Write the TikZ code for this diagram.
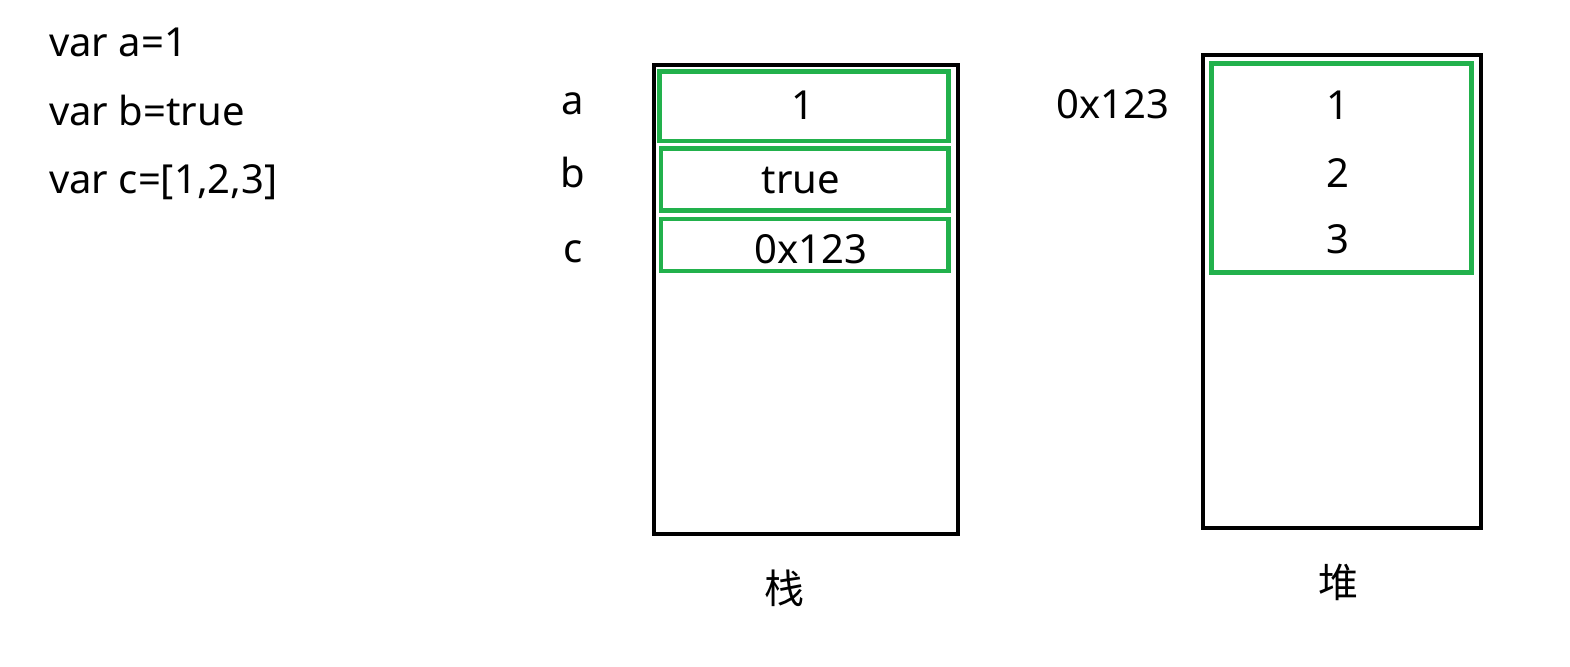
\documentclass[tikz,border=0pt]{standalone}
\usepackage{fontspec}
\setmainfont{Noto Sans}
\newfontfamily\cjkfont{Noto Sans CJK SC}
\definecolor{boxgreen}{RGB}{34,177,76}
\begin{document}
\begin{tikzpicture}[x=1pt,y=-1pt,
  txt/.style={font=\fontsize{40}{48}\selectfont, inner sep=0pt, anchor=base},
  codeline/.style={txt, anchor=base west},
  cjk/.style={font=\cjkfont\fontsize{40}{48}\selectfont, inner sep=0pt, anchor=base},
  memblock/.style={draw=black, line width=4pt, inner sep=0pt, outer sep=0pt},
  cell/.style={draw=boxgreen, line width=4.5pt, inner sep=0pt, outer sep=0pt}]
\useasboundingbox (0,0) rectangle (1570,666);
% code
\node[codeline] (l1) at (49,57) {var a=1};
\node[codeline] (l2) at (49,125) {var b=true};
\node[codeline] (l3) at (49,193) {var c=[1,2,3]};
% stack
\node[memblock, minimum width=304.3pt, minimum height=469.3pt] (stack) at (805.85,299.35) {};
\node[cell, minimum width=288.6pt, minimum height=69.3pt] (ca) at (804,106.35) {};
\node[cell, minimum width=287.3pt, minimum height=62pt] (cb) at (804.65,179.3) {};
\node[cell, minimum width=287.3pt, minimum height=52pt] (cc) at (804.65,245) {};
\node[txt] (na) at (573,115) {a};
\node[txt] (nb) at (573,187) {b};
\node[txt] (nc) at (573,262) {c};
\node[txt] (va) at (803,120) {1};
\node[txt] (vb) at (801,193) {true};
\node[txt] (vc) at (811,263) {0x123};
\node[cjk] (stacklbl) at (784,603) {栈};
% heap
\node[memblock, minimum width=278pt, minimum height=473.3pt] (heap) at (1341.7,291.35) {};
\node[cell, minimum width=260pt, minimum height=208.6pt] (harr) at (1341.7,168) {};
\node[txt] (addr) at (1113,118) {0x123};
\node[txt] (h1) at (1338,120) {1};
\node[txt] (h2) at (1338,187) {2};
\node[txt] (h3) at (1338,253) {3};
\node[cjk] (heaplbl) at (1338,597) {堆};
\end{tikzpicture}
\end{document}
